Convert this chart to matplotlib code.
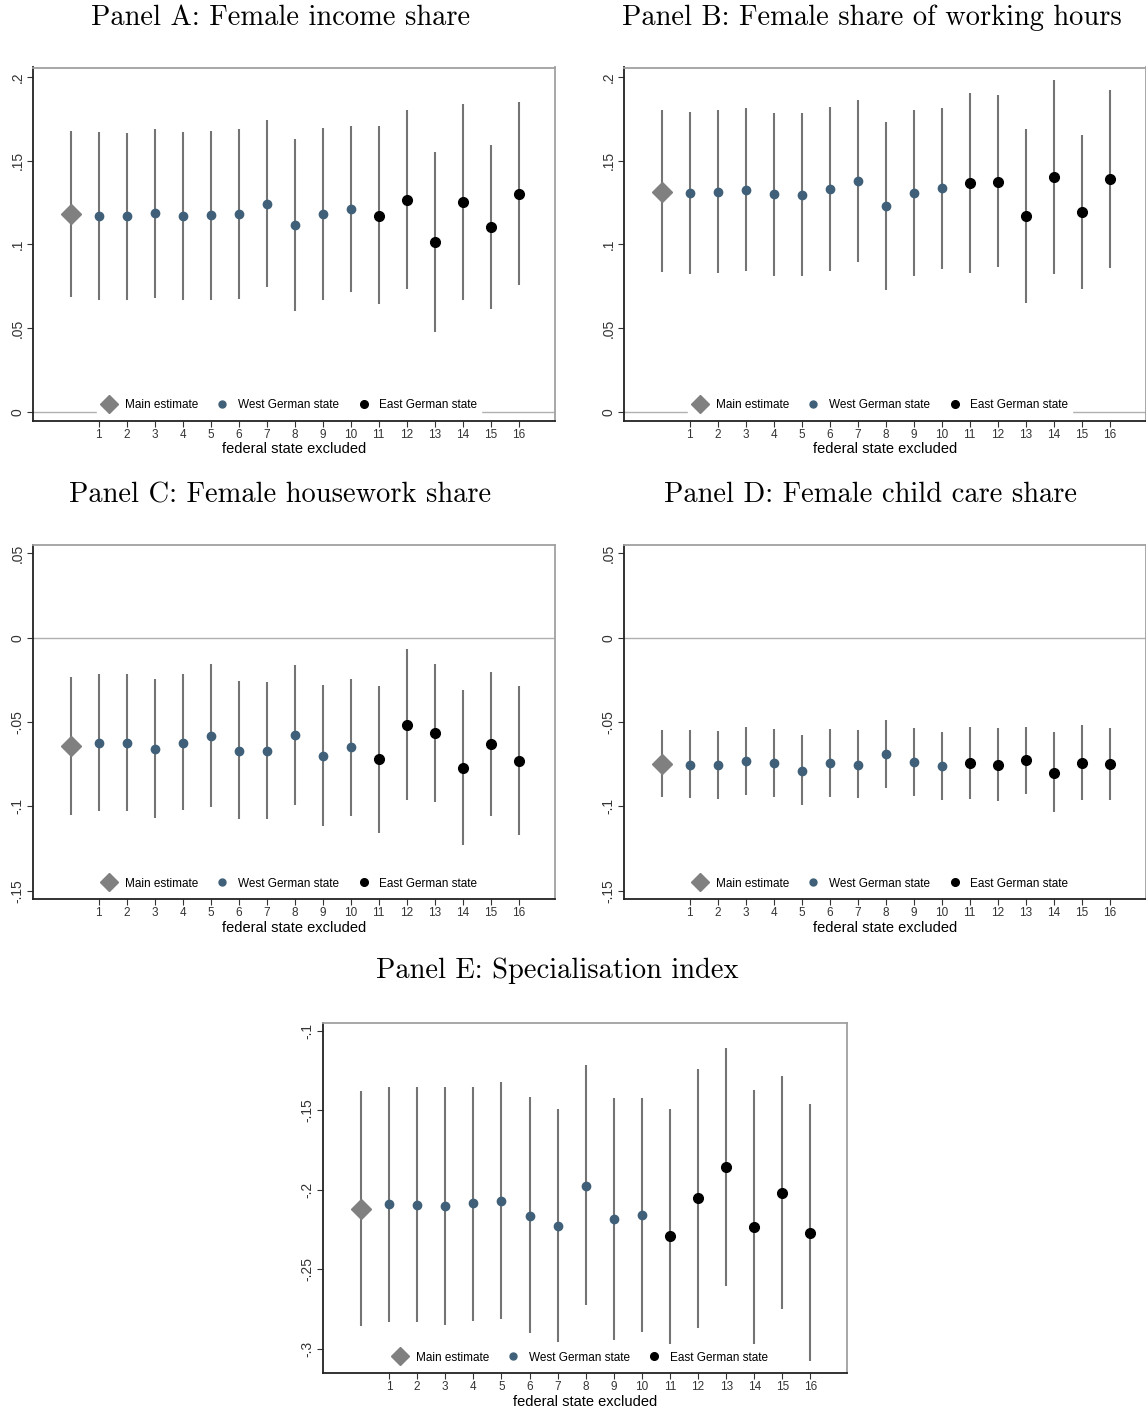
"""Leave-one-state-out robustness figure (five panels)."""
import matplotlib
matplotlib.use("Agg")
import matplotlib.pyplot as plt
from matplotlib.lines import Line2D
from matplotlib.ticker import FuncFormatter

# index 0 = main estimate, 1..16 = federal state excluded
states = list(range(17))
east_from = 11

income_est = [0.1178, 0.117, 0.1166, 0.1184, 0.117, 0.1174, 0.1182, 0.1242, 0.1114,
              0.1178, 0.121, 0.117, 0.1264, 0.1013, 0.1254, 0.1102, 0.1301]
income_hi = [0.1676, 0.167, 0.1666, 0.1688, 0.167, 0.1676, 0.169, 0.1743, 0.1628,
             0.1692, 0.1707, 0.1705, 0.1803, 0.155, 0.1837, 0.1596, 0.1849]
income_lo = [0.0683, 0.0669, 0.0665, 0.0681, 0.067, 0.067, 0.0675, 0.0742, 0.0601,
             0.0669, 0.0714, 0.0641, 0.0732, 0.0474, 0.0669, 0.0611, 0.0758]

hours_est = [0.1313, 0.1307, 0.1311, 0.1327, 0.1299, 0.1297, 0.1329, 0.1376, 0.1229,
             0.1307, 0.1337, 0.1364, 0.1374, 0.1168, 0.1402, 0.1194, 0.1388]
hours_hi = [0.18, 0.1793, 0.18, 0.1817, 0.1786, 0.1782, 0.1819, 0.1863, 0.1728,
            0.1805, 0.1817, 0.1905, 0.1889, 0.1686, 0.1984, 0.1652, 0.192]
hours_lo = [0.0832, 0.0824, 0.0828, 0.084, 0.0812, 0.081, 0.084, 0.0896, 0.0729,
            0.0808, 0.0854, 0.0826, 0.0862, 0.0647, 0.082, 0.0733, 0.0856]

house_est = [-0.0644, -0.0624, -0.0626, -0.066, -0.0624, -0.0582, -0.067, -0.0672, -0.0576,
             -0.0699, -0.065, -0.0721, -0.0519, -0.0565, -0.0771, -0.063, -0.0729]
house_hi = [-0.0234, -0.0214, -0.0214, -0.0248, -0.0214, -0.0158, -0.0258, -0.026, -0.0164,
            -0.0281, -0.0244, -0.0287, -0.0069, -0.0155, -0.0311, -0.0204, -0.0287]
house_lo = [-0.105, -0.103, -0.103, -0.107, -0.1024, -0.1004, -0.1076, -0.1076, -0.099,
            -0.1115, -0.1056, -0.1155, -0.0965, -0.0975, -0.1228, -0.1056, -0.1169]

child_est = [-0.0747, -0.0753, -0.0757, -0.0729, -0.0745, -0.0788, -0.0743, -0.0755, -0.0691,
             -0.0735, -0.0763, -0.0743, -0.0753, -0.0727, -0.08, -0.0741, -0.0749]
child_hi = [-0.0545, -0.0547, -0.0553, -0.0527, -0.0543, -0.058, -0.0541, -0.0547, -0.0487,
            -0.0533, -0.0561, -0.0531, -0.0535, -0.0531, -0.0561, -0.0517, -0.0533]
child_lo = [-0.0947, -0.0951, -0.0959, -0.0933, -0.0947, -0.0994, -0.0947, -0.0953, -0.0893,
            -0.0939, -0.0965, -0.0959, -0.0971, -0.0929, -0.1036, -0.0965, -0.0961]

spec_est = [-0.2117, -0.209, -0.2092, -0.2101, -0.2084, -0.207, -0.2161, -0.2225, -0.1974,
            -0.2184, -0.2157, -0.2288, -0.2051, -0.1856, -0.2236, -0.2018, -0.2269]
spec_hi = [-0.138, -0.1353, -0.1353, -0.1353, -0.1351, -0.1322, -0.1415, -0.1492, -0.1216,
           -0.1424, -0.142, -0.1492, -0.1239, -0.1106, -0.1374, -0.1287, -0.1459]
spec_lo = [-0.2855, -0.2828, -0.283, -0.2846, -0.2821, -0.2811, -0.29, -0.2958, -0.2726,
           -0.2942, -0.289, -0.2969, -0.2865, -0.2601, -0.2969, -0.2751, -0.3073]

titles = ["Panel A: Female income share", "Panel B: Female share of working hours",
          "Panel C: Female housework share", "Panel D: Female child care share",
          "Panel E: Specialisation index"]

COL_MAIN = "#808080"
COL_WEST = "#3f6078"
COL_EAST = "#000000"
COL_CI = "#747474"
SANS = "Liberation Sans"


def stata_fmt(v, _pos):
    if abs(v) < 1e-9:
        return "0"
    s = f"{v:.2f}".rstrip("0")
    return s.replace("0.", ".")


def panel(ax, est, lo, hi, yticks, ylim, zero_line=True):
    ax.vlines(states, lo, hi, color=COL_CI, lw=1.5, zorder=2)
    ax.plot(states[0], est[0], "D", color=COL_MAIN, ms=10, zorder=3)
    ax.plot(states[1:east_from], est[1:east_from], "o", color=COL_WEST, ms=6, ls="none", zorder=3)
    ax.plot(states[east_from:], est[east_from:], "o", color=COL_EAST, ms=7, ls="none", zorder=3)
    if zero_line:
        ax.axhline(0, color="#b0b0b0", lw=1.0, zorder=1)
    ax.set_xlim(-1.35, 17.3)
    ax.set_ylim(*ylim)
    ax.set_xticks(states[1:])
    ax.set_xticklabels([str(s) for s in states[1:]], fontsize=8.5, family=SANS)
    ax.set_yticks(yticks)
    ax.yaxis.set_major_formatter(FuncFormatter(stata_fmt))
    for lab in ax.get_yticklabels():
        lab.set_rotation(90)
        lab.set_va("center")
        lab.set_family(SANS)
        lab.set_fontsize(10)
    ax.tick_params(axis="both", direction="out", length=4, width=0.8, colors="#333333", pad=2)
    ax.set_xlabel("federal state excluded", fontsize=10.5, family=SANS, labelpad=1)
    for side in ("left", "bottom"):
        ax.spines[side].set_color("#222222")
        ax.spines[side].set_linewidth(1.3)
    for side in ("top", "right"):
        ax.spines[side].set_color("#a0a0a0")
        ax.spines[side].set_linewidth(1.3)
    handles = [
        Line2D([], [], marker="D", color=COL_MAIN, ls="none", ms=9),
        Line2D([], [], marker="o", color=COL_WEST, ls="none", ms=5),
        Line2D([], [], marker="o", color=COL_EAST, ls="none", ms=5.5),
    ]
    leg = ax.legend(handles, ["Main estimate", "West German state", "East German state"],
                    loc="lower center", ncol=3, frameon=True, fancybox=False,
                    prop={"family": SANS, "size": 8.5}, handletextpad=0.6,
                    columnspacing=1.3, borderpad=0.3, handlelength=1.5,
                    bbox_to_anchor=(0.49, 0.0))
    leg.get_frame().set_facecolor("white")
    leg.get_frame().set_edgecolor("white")
    leg.get_frame().set_alpha(1.0)


fig = plt.figure(figsize=(11.46, 14.14), dpi=100)
W, H = 1146.0, 1414.0


def add_axes(left, top, width, bottom):
    return fig.add_axes([left / W, 1 - bottom / H, width / W, (bottom - top) / H])


axA = add_axes(33, 67.5, 522, 420.7)
axB = add_axes(624, 67.5, 522, 420.7)
axC = add_axes(33, 545, 522, 899)
axD = add_axes(624, 545, 522, 899)
axE = add_axes(323, 1023.3, 524, 1373)

top_ticks = [0, 0.05, 0.1, 0.15, 0.2]
mid_ticks = [-0.15, -0.1, -0.05, 0, 0.05]
panel(axA, income_est, income_lo, income_hi, top_ticks, (-0.0054, 0.2056))
panel(axB, hours_est, hours_lo, hours_hi, top_ticks, (-0.0054, 0.2056))
panel(axC, house_est, house_lo, house_hi, mid_ticks, (-0.1549, 0.0549))
panel(axD, child_est, child_lo, child_hi, mid_ticks, (-0.1549, 0.0549))
panel(axE, spec_est, spec_lo, spec_hi, [-0.3, -0.25, -0.2, -0.15, -0.1], (-0.315, -0.0954),
      zero_line=False)

title_pos = [(281, 18), (872, 18), (280, 495), (871, 495), (557, 971)]
for t, (x, y) in zip(titles, title_pos):
    fig.text(x / W, 1 - y / H, t, ha="center", va="center", family="cmr10", fontsize=20.5)

fig.savefig("out.png", dpi=100)
